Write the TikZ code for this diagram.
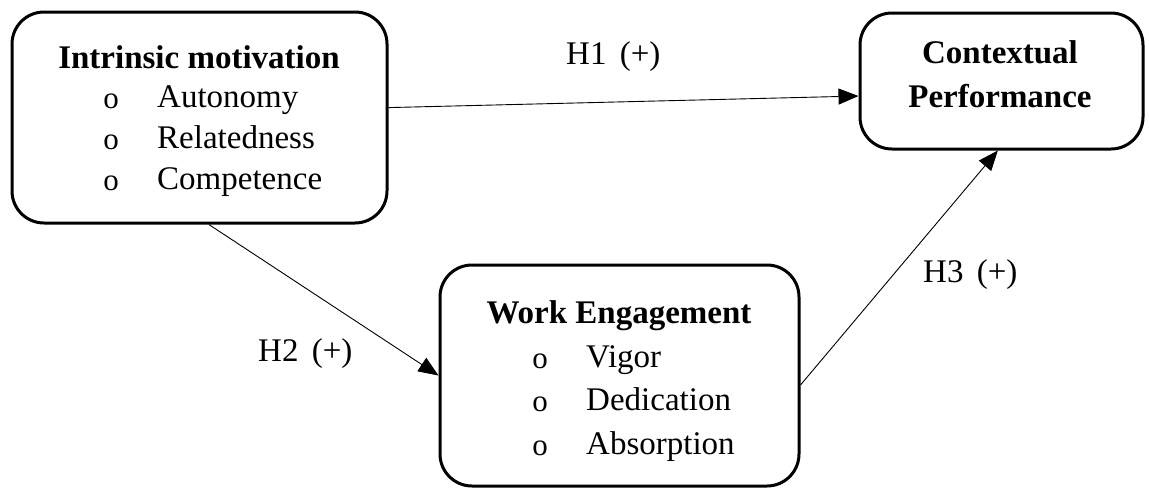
\documentclass[tikz,border=0pt]{standalone}
\usepackage{fontspec}
\setmainfont{Liberation Serif}
\usetikzlibrary{arrows.meta}
\begin{document}
\begin{tikzpicture}[x=1pt,y=-1pt,
  box/.style={draw,line width=3pt,rounded corners=32pt,minimum width=#1,inner sep=0pt},
  bul/.style={anchor=base,inner sep=0pt,font=\fontsize{31}{40}\selectfont},
  ltxt/.style={anchor=base west,inner sep=0pt,font=\fontsize{33}{40}\selectfont},
  ttl/.style={anchor=base,inner sep=0pt,font=\fontsize{33}{40}\selectfont\bfseries},
  arr/.style={line width=0.9pt,-{Triangle[length=20pt,width=16pt]}}]
\useasboundingbox (0,0) rectangle (1149,488);
% boxes
\node[box=375pt,minimum height=211pt] (im) at (199.5,117.5) {};
\node[box=283pt,minimum height=136pt] (cp) at (1001.5,81) {};
\node[box=359pt,minimum height=221pt] (we) at (619.5,375.5) {};
% texts box 1
\node[ttl] (imt) at (199,68) {Intrinsic motivation};
\node[bul] (imb1) at (111,108) {o};
\node[bul] (imb2) at (111,149) {o};
\node[bul] (imb3) at (111,190) {o};
\node[ltxt] (im1) at (157,107) {Autonomy};
\node[ltxt] (im2) at (157,148) {Relatedness};
\node[ltxt] (im3) at (157,189) {Competence};
% texts box 2
\node[ttl] (cpt1) at (1000,63) {Contextual};
\node[ttl] (cpt2) at (1000,107) {Performance};
% texts box 3
\node[ttl] (wet) at (619,323) {Work Engagement};
\node[bul] (web1) at (540,368) {o};
\node[bul] (web2) at (540,411) {o};
\node[bul] (web3) at (540,455) {o};
\node[ltxt] (we1) at (586,367) {Vigor};
\node[ltxt] (we2) at (586,410) {Dedication};
\node[ltxt] (we3) at (586,454) {Absorption};
% arrows
\draw[arr] (im.3.2) -- (cp.186.5);
\draw[arr] (im.275.7) -- (we.180.8);
\draw[arr] (we.357.6) -- (cp.267.1);
% labels
\node[ltxt] (h1) at (566,64) {H1 \hspace{5pt}(+)};
\node[ltxt] (h2) at (258,361) {H2 \hspace{5pt}(+)};
\node[ltxt] (h3) at (923,282) {H3 \hspace{5pt}(+)};
\end{tikzpicture}
\end{document}
